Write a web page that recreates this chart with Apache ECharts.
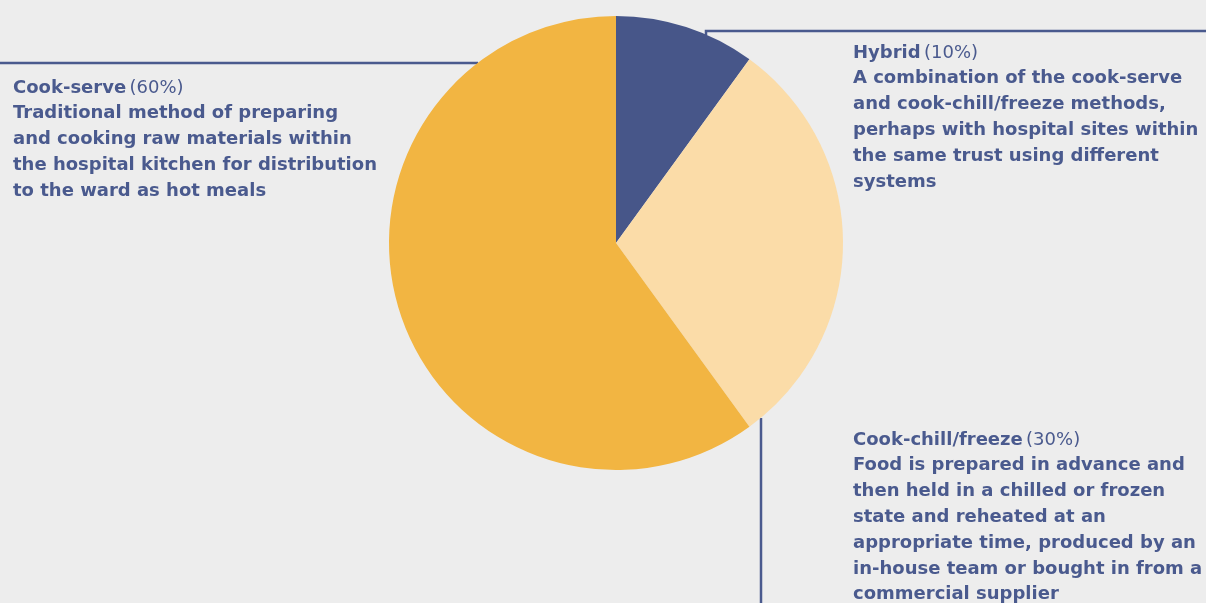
<!DOCTYPE html>
<html>
<head>
<meta charset="utf-8">
<script src="https://cdn.jsdelivr.net/npm/echarts@6/dist/echarts.min.js"></script>
<style>
  html, body { margin: 0; padding: 0; background: #ededed; }
  #chart { width: 1206px; height: 603px; }
</style>
</head>
<body>
<div id="chart"></div>
<script>
const names = ['Hybrid', 'Cook-chill/freeze', 'Cook-serve']
const shares = [10, 30, 60]
const notes = [
  'A combination of the cook-serve\nand cook-chill/freeze methods,\nperhaps with hospital sites within\nthe same trust using different\nsystems',
  'Food is prepared in advance and\nthen held in a chilled or frozen\nstate and reheated at an\nappropriate time, produced by an\nin-house team or bought in from a\ncommercial supplier',
  'Traditional method of preparing\nand cooking raw materials within\nthe hospital kitchen for distribution\nto the ward as hot meals',
]
const colors = ['#475689', '#fbdca8', '#f2b542']

const ink = '#4a5a8e'
const font = 'DejaVu Sans'
const lh = 25.8

// where each label sits and how its leader line runs
const layouts = [
  { x: 853, y: 40, line: [[706, 35], [706, 31], [1206, 31]] },
  { x: 853, y: 427, line: [[761, 418], [761, 500], [761, 603]] },
  { x: 13, y: 75, line: [[478, 63], [240, 63], [0, 63]] },
]

const chart = echarts.init(document.getElementById('chart'))

const option = {
  backgroundColor: '#ededed',
  animation: false,
  series: [
    {
      type: 'pie',
      center: [616, 243],
      radius: 227,
      startAngle: 90,
      clockwise: true,
      silent: true,
      data: names.map((n, i) => ({
        name: n,
        value: shares[i],
        itemStyle: { color: colors[i] },
      })),
      label: {
        show: true,
        position: 'outside',
        width: 420,
        overflow: 'none',
        formatter: (p) =>
          '{b|' + p.name + '} {p|(' + p.value + '%)}\n{t|' +
          notes[p.dataIndex].split('\n').join('}\n{t|') + '}',
        rich: {
          b: { fontFamily: font, fontWeight: 'bold', fontSize: 18, color: ink, lineHeight: lh },
          p: { fontFamily: font, fontWeight: 'normal', fontSize: 18, color: ink, lineHeight: lh },
          t: { fontFamily: font, fontWeight: 'bold', fontSize: 18, color: ink, lineHeight: lh },
        },
      },
      labelLine: {
        show: true,
        lineStyle: { color: ink, width: 2.5 },
      },
      labelLayout: (params) => {
        const l = layouts[params.dataIndex]
        return {
          x: l.x,
          y: l.y,
          align: 'left',
          verticalAlign: 'top',
          labelLinePoints: l.line,
        }
      },
    },
  ],
}
chart.setOption(option)
</script>
</body>
</html>
